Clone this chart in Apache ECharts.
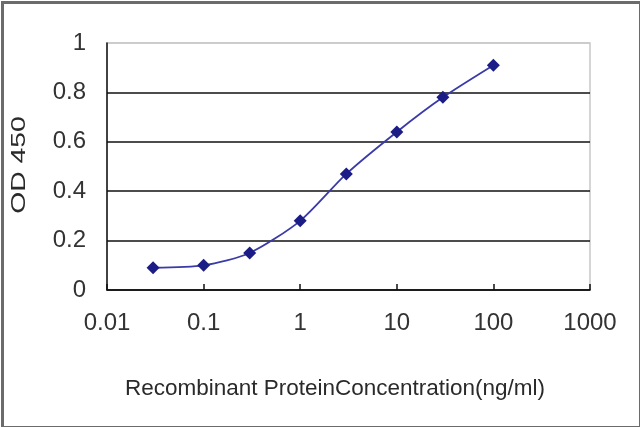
<!DOCTYPE html>
<html><head><meta charset="utf-8">
<script src="https://cdn.jsdelivr.net/npm/echarts@6/dist/echarts.min.js"></script>
<style>html,body{margin:0;padding:0;background:#fff}#c{width:640px;height:427px}</style>
</head><body><div id="c"></div>
<script>
const concentrations = [0.03, 0.1, 0.3, 1, 3, 10, 30, 100];
const odValues = [0.09, 0.10, 0.15, 0.28, 0.47, 0.64, 0.78, 0.91];
const xTickLabels = ['0.01', '0.1', '1', '10', '100', '1000'];
const yTickLabels = ['0', '0.2', '0.4', '0.6', '0.8', '1'];
const xTitle = 'Recombinant ProteinConcentration(ng/ml)';
const yTitle = 'OD 450';

const chart = echarts.init(document.getElementById('c'));
const font = 'Liberation Sans, Arial, sans-serif';
chart.setOption({
  backgroundColor: '#fff',
  animation: false,
  graphic: [
    {type: 'rect', left: 0, top: 0, shape: {x: 1, y: 1, width: 638, height: 425}, style: {fill: 'none', stroke: '#6b6b6b', lineWidth: 3}, z: 100},
    {type: 'text', x: 335, y: 389, style: {text: xTitle, font: '22.5px ' + font, fill: '#2a2a2a', align: 'center', verticalAlign: 'middle'}},
    {type: 'text', x: 19, y: 165, rotation: Math.PI / 2, style: {text: yTitle, font: '21px ' + font, fill: '#2a2a2a', align: 'center', verticalAlign: 'middle'}, scaleX: 1.35}
  ],
  grid: {left: 107, right: 50, top: 43, bottom: 137, show: true, borderColor: '#c8c8c8', borderWidth: 1.5},
  xAxis: {
    type: 'log', logBase: 10, min: 0.01, max: 1000,
    axisLine: {show: true, onZero: false, lineStyle: {color: '#111', width: 1.5}},
    axisTick: {show: true, inside: true, length: 6, lineStyle: {color: '#111', width: 1.5}},
    minorTick: {show: false},
    splitLine: {show: false},
    axisLabel: {margin: 33, color: '#333', fontSize: 24, fontFamily: font, verticalAlign: 'middle',
      formatter: function (v) { const i = Math.round(Math.log10(v)) + 2; return xTickLabels[i]; }}
  },
  yAxis: {
    type: 'value', min: 0, max: 1, interval: 0.2,
    axisLine: {show: true, lineStyle: {color: '#111', width: 1.5}},
    axisTick: {show: false},
    splitLine: {show: true, lineStyle: {color: ['#111', '#111', '#111', '#111', '#111', '#c8c8c8'], width: 1.5}},
    axisLabel: {margin: 21, color: '#333', fontSize: 24, fontFamily: font,
      formatter: function (v) { return yTickLabels[Math.round(v / 0.2)]; }}
  },
  series: [{
    type: 'line',
    data: concentrations.map((c, i) => [c, odValues[i]]),
    smooth: 0.25,
    symbol: 'diamond', symbolSize: 13,
    lineStyle: {color: '#3a3aa8', width: 1.8},
    itemStyle: {color: '#1c1c86'}
  }]
});
</script></body></html>
